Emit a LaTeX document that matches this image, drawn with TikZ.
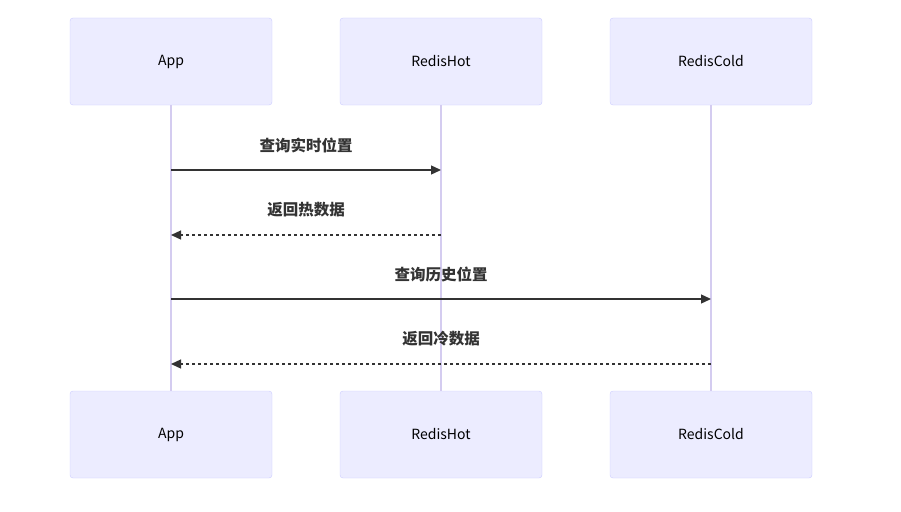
\documentclass[tikz,border=0pt]{standalone}
\usepackage{fontspec}
\setmainfont{Noto Sans CJK SC}
\usetikzlibrary{arrows.meta}
\definecolor{actorfill}{HTML}{ECECFF}
\definecolor{actorline}{HTML}{CCCCFF}
\definecolor{lifeline}{HTML}{D4CCF0}
\definecolor{msgline}{HTML}{333333}
\tikzset{
    actor/.style={draw=actorline, fill=actorfill, rounded corners=3pt, minimum width=202pt, minimum height=87pt, font=\fontsize{14}{16}\selectfont, text=black},
    msg/.style={draw=msgline, line width=1.3pt, -{Triangle[length=10pt,width=9pt]}},
    reply/.style={msg, dash pattern=on 3pt off 3pt},
    msglabel/.style={font=\fontsize{15.5}{18}\selectfont\bfseries, text=msgline}
}
\begin{document}
\begin{tikzpicture}[x=1pt,y=-1pt]
    \useasboundingbox (0,0) rectangle (901,511);
    % actors
    \node[actor] (appTop) at (171,61.5) {App};
    \node[actor] (hotTop) at (441,61.5) {RedisHot};
    \node[actor] (coldTop) at (711,61.5) {RedisCold};
    \node[actor] (appBot) at (171,434.5) {App};
    \node[actor] (hotBot) at (441,434.5) {RedisHot};
    \node[actor] (coldBot) at (711,434.5) {RedisCold};
    % lifelines
    \draw[lifeline, line width=1.5pt] (appTop.south) -- (appBot.north);
    \draw[lifeline, line width=1.5pt] (hotTop.south) -- (hotBot.north);
    \draw[lifeline, line width=1.5pt] (coldTop.south) -- (coldBot.north);
    % message anchors
    \coordinate (app1) at (171,170);  \coordinate (hot1) at (441,170);
    \coordinate (app2) at (171,235);  \coordinate (hot2) at (441,235);
    \coordinate (app3) at (171,299);  \coordinate (cold3) at (711,299);
    \coordinate (app4) at (171,364);  \coordinate (cold4) at (711,364);
    % messages
    \draw[msg] (app1) -- (hot1);
    \node[msglabel] (m1) at (306,145) {查询实时位置};
    \draw[reply] (hot2) -- (app2);
    \node[msglabel] (m2) at (306,210) {返回热数据};
    \draw[msg] (app3) -- (cold3);
    \node[msglabel] (m3) at (441,274) {查询历史位置};
    \draw[reply] (cold4) -- (app4);
    \node[msglabel] (m4) at (441,339) {返回冷数据};
\end{tikzpicture}
\end{document}
